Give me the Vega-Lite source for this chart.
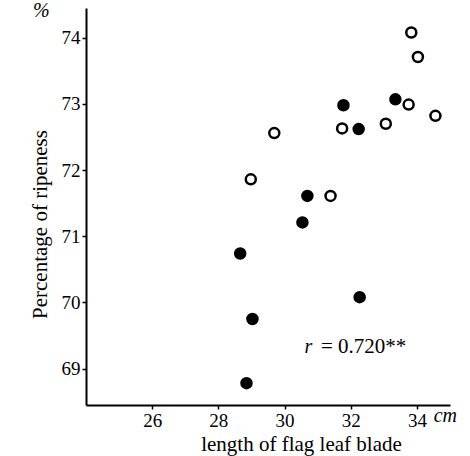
{
  "$schema": "https://vega.github.io/schema/vega-lite/v6.json",
  "autosize": "none",
  "width": 364,
  "height": 397,
  "padding": {"left": 86, "top": 8, "right": 20, "bottom": 51},
  "background": "white",
  "config": {
    "view": {"stroke": null},
    "font": "Liberation Serif",
    "axis": {"grid": false, "domainColor": "black", "domainWidth": 2, "tickColor": "black", "tickSize": 4, "tickWidth": 1.5, "labelColor": "black", "labelFont": "Liberation Serif", "labelFontSize": 19, "titleFont": "Liberation Serif", "titleFontSize": 21, "titleFontWeight": "normal", "titleColor": "black"}
  },
  "datasets": {
    "pts": [
      {"length": 33.83, "ripeness": 74.08, "type": "open"},
      {"length": 34.03, "ripeness": 73.71, "type": "open"},
      {"length": 33.75, "ripeness": 72.99, "type": "open"},
      {"length": 34.56, "ripeness": 72.82, "type": "open"},
      {"length": 33.06, "ripeness": 72.70, "type": "open"},
      {"length": 31.74, "ripeness": 72.63, "type": "open"},
      {"length": 29.69, "ripeness": 72.56, "type": "open"},
      {"length": 28.98, "ripeness": 71.86, "type": "open"},
      {"length": 31.39, "ripeness": 71.61, "type": "open"},
      {"length": 33.35, "ripeness": 73.07, "type": "filled"},
      {"length": 31.78, "ripeness": 72.98, "type": "filled"},
      {"length": 32.24, "ripeness": 72.62, "type": "filled"},
      {"length": 30.69, "ripeness": 71.61, "type": "filled"},
      {"length": 30.54, "ripeness": 71.21, "type": "filled"},
      {"length": 28.66, "ripeness": 70.74, "type": "filled"},
      {"length": 32.27, "ripeness": 70.08, "type": "filled"},
      {"length": 29.03, "ripeness": 69.75, "type": "filled"},
      {"length": 28.85, "ripeness": 68.78, "type": "filled"}
    ],
    "notes": [
      {"length": 30.72, "ripeness": 69.23, "label": "r", "style": "italic"},
      {"length": 31.1, "ripeness": 69.23, "label": "= 0.720**", "style": "normal"},
      {"length": 34.86, "ripeness": 68.2, "label": "cm", "style": "italic"},
      {"length": 22.65, "ripeness": 74.32, "label": "%", "style": "italic"}
    ]
  },
  "layer": [
    {
      "data": {"name": "pts"},
      "mark": {"type": "point", "shape": "circle", "stroke": "black", "strokeWidth": 2.5, "opacity": 1, "size": 100},
      "encoding": {
        "x": {"field": "length", "type": "quantitative", "scale": {"domain": [24, 35], "nice": false, "zero": false},
          "axis": {"values": [26, 28, 30, 32, 34], "title": "length of flag leaf blade", "titleX": 215, "titleY": 28, "labelPadding": 2}},
        "y": {"field": "ripeness", "type": "quantitative", "scale": {"domain": [68.45, 74.45], "nice": false, "zero": false},
          "axis": {"values": [69, 70, 71, 72, 73, 74], "format": "d", "title": "Percentage of ripeness", "titleX": -36, "titleY": 216, "labelPadding": 2}},
        "fill": {"field": "type", "type": "nominal", "scale": {"domain": ["filled", "open"], "range": ["black", "white"]}, "legend": null}
      }
    },
    {
      "data": {"name": "notes"},
      "transform": [{"filter": "datum.style == 'italic'"}],
      "mark": {"type": "text", "fontSize": 20, "fontStyle": "italic", "baseline": "alphabetic", "color": "black"},
      "encoding": {
        "x": {"field": "length", "type": "quantitative"},
        "y": {"field": "ripeness", "type": "quantitative"},
        "text": {"field": "label"}
      }
    },
    {
      "data": {"name": "notes"},
      "transform": [{"filter": "datum.style == 'normal'"}],
      "mark": {"type": "text", "fontSize": 21, "align": "left", "baseline": "alphabetic", "color": "black"},
      "encoding": {
        "x": {"field": "length", "type": "quantitative"},
        "y": {"field": "ripeness", "type": "quantitative"},
        "text": {"field": "label"}
      }
    }
  ]
}
